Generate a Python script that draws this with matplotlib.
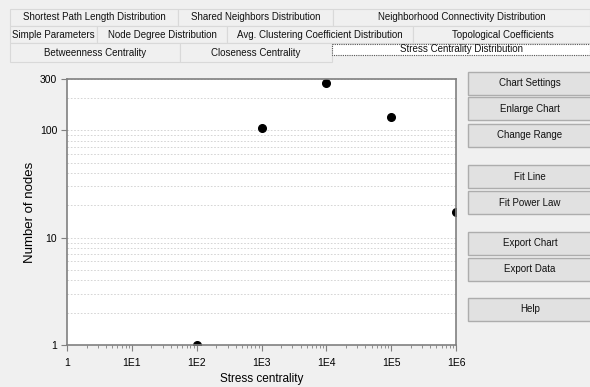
import numpy as np
import matplotlib.pyplot as plt
from matplotlib.patches import Rectangle
from matplotlib.ticker import FixedLocator, LogLocator, NullFormatter

# data
stress = [1e2, 1e3, 1e4, 1e5, 1e6]
nodes = [1, 105, 273, 132, 17.3]

x_ticks = [1, 1e1, 1e2, 1e3, 1e4, 1e5, 1e6]
x_labels = ['1', '1E1', '1E2', '1E3', '1E4', '1E5', '1E6']
y_ticks = [1, 10, 100, 300]
y_labels = ['1', '10', '100', '300']

tab_rows = [
    [('Shortest Path Length Distribution', 10, 178), ('Shared Neighbors Distribution', 178, 333),
     ('Neighborhood Connectivity Distribution', 333, 590)],
    [('Simple Parameters', 10, 97), ('Node Degree Distribution', 97, 227),
     ('Avg. Clustering Coefficient Distribution', 227, 413), ('Topological Coefficients', 413, 610)],
    [('Betweenness Centrality', 10, 180), ('Closeness Centrality', 180, 332),
     ('Stress Centrality Distribution', 332, 590)],
]
tab_y = [(9, 26), (26, 43), (43, 62)]

buttons = [('Chart Settings', 72), ('Enlarge Chart', 97), ('Change Range', 124),
           ('Fit Line', 165), ('Fit Power Law', 191), ('Export Chart', 232),
           ('Export Data', 258), ('Help', 298)]

plt.rcParams['font.family'] = ['Liberation Sans', 'DejaVu Sans']

W, H = 590, 387
fig = plt.figure(figsize=(W / 100, H / 100), dpi=100, facecolor='#F0F0F0')

# background "window" drawn in pixel coords
bg = fig.add_axes([0, 0, 1, 1], zorder=0)
bg.set_xlim(0, W)
bg.set_ylim(H, 0)
bg.axis('off')

for row, (y0, y1) in zip(tab_rows, tab_y):
    for label, x0, x1 in row:
        selected = label == 'Stress Centrality Distribution'
        if selected:
            bg.add_patch(Rectangle((x0, y0 + 1), x1 - x0, y1 - y0 - 8, facecolor='white',
                                   edgecolor='#555555', lw=0.8, ls=(0, (1, 1))))
            ty = y0 + (y1 - y0 - 6) / 2
        else:
            bg.add_patch(Rectangle((x0, y0), x1 - x0, y1 - y0, facecolor='#F0F0F0',
                                   edgecolor='#D9D9D9', lw=0.8))
            ty = (y0 + y1) / 2
        bg.text(min((x0 + x1) / 2, 503), ty, label, ha='center', va='center', fontsize=7,
                color='#111111')

for label, y in buttons:
    bg.add_patch(Rectangle((468, y), 125, 23, facecolor='#E1E1E1', edgecolor='#ADADAD', lw=1))
    bg.text(530, y + 11.5, label, ha='center', va='center', fontsize=7,
            color='#111111')

# chart
ax = fig.add_axes([67 / W, 1 - 345 / H, (456 - 67) / W, (345 - 79) / H], zorder=1)
ax.set_facecolor('white')
ax.set_xscale('log')
ax.set_yscale('log')
ax.set_xlim(1, 1e6)
ax.set_ylim(1, 300)

ax.plot(stress, nodes, 'o', color='black', markersize=5.5)

ax.xaxis.set_major_locator(FixedLocator(x_ticks))
ax.set_xticklabels(x_labels)
ax.xaxis.set_minor_locator(LogLocator(base=10, subs=np.arange(2, 10)))
ax.xaxis.set_minor_formatter(NullFormatter())
ax.yaxis.set_major_locator(FixedLocator(y_ticks))
ax.set_yticklabels(y_labels)
ax.yaxis.set_minor_locator(LogLocator(base=10, subs=np.arange(2, 10)))
ax.yaxis.set_minor_formatter(NullFormatter())
ax.tick_params(axis='y', which='minor', length=0)

ax.grid(True, which='both', axis='y', color='#CFCFCF', ls=(0, (2, 2)), lw=0.6)
ax.tick_params(axis='both', which='major', labelsize=7.5, direction='out', length=4,
               color='#808080', pad=3)
ax.tick_params(axis='x', which='major', pad=5)
ax.tick_params(axis='x', which='minor', direction='out', length=2.5, color='#808080')
for s in ax.spines.values():
    s.set_color('#808080')
    s.set_linewidth(1.2)

ax.set_xlabel('Stress centrality', fontsize=8.5, labelpad=4)
ax.set_ylabel('Number of nodes', fontsize=9.5, labelpad=3)

fig.savefig('out.png', dpi=100, facecolor=fig.get_facecolor())
